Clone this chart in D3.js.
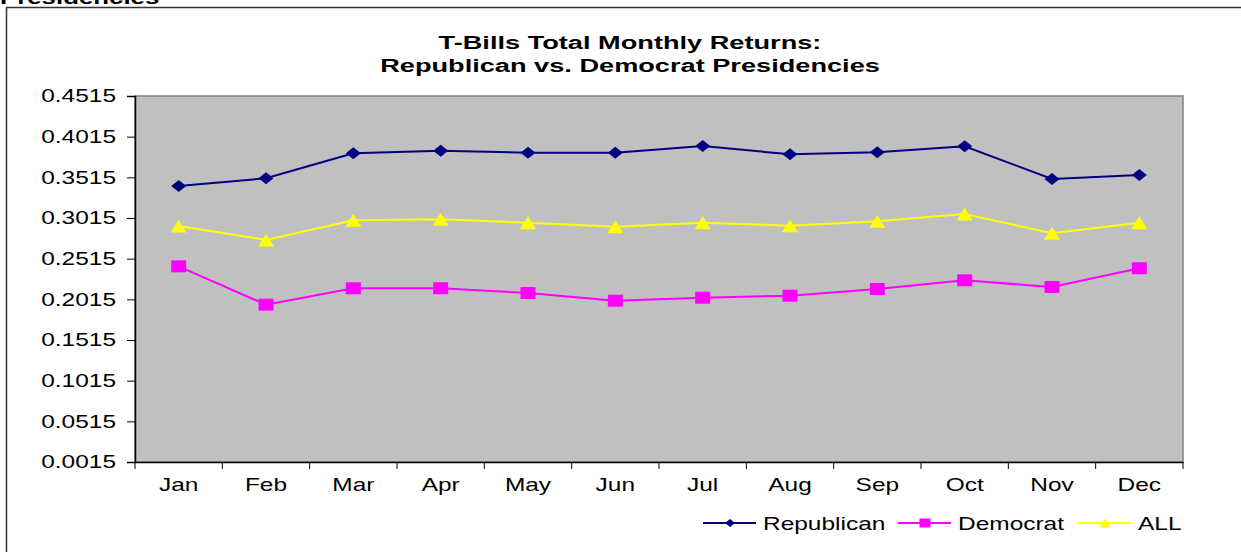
<!DOCTYPE html>
<html>
<head>
<meta charset="utf-8">
<script src="https://cdn.jsdelivr.net/npm/d3@7"></script>
<style>
  body { margin: 0; background: #fff; }
  svg { display: block; }
  text { font-family: Arial, "Liberation Sans", sans-serif; }
</style>
</head>
<body>
<svg id="chart"></svg>
<script>
// values
var months = ["Jan", "Feb", "Mar", "Apr", "May", "Jun", "Jul", "Aug", "Sep", "Oct", "Nov", "Dec"];
var republican = [0.3408, 0.3503, 0.3810, 0.3842, 0.3818, 0.3818, 0.3900, 0.3798, 0.3823, 0.3897, 0.3494, 0.3544];
var democrat = [0.2421, 0.1949, 0.2151, 0.2151, 0.2093, 0.1998, 0.2035, 0.2060, 0.2142, 0.2249, 0.2167, 0.2397];
var allReturns = [0.2917, 0.2745, 0.2987, 0.2999, 0.2957, 0.2908, 0.2957, 0.2920, 0.2974, 0.3064, 0.2827, 0.2957];
var yTicks = [0.0015, 0.0515, 0.1015, 0.1515, 0.2015, 0.2515, 0.3015, 0.3515, 0.4015, 0.4515];
var seriesNames = ["Republican", "Democrat", "ALL"];

var width = 1241, height = 552;
var plot = {left: 135, right: 1183, top: 96, bottom: 462};
var stretch = 1.36; // the source picture is widened, text included

var svg = d3.select("#chart")
    .attr("width", width)
    .attr("height", height);

// place a horizontally stretched text
function stretchedText(parent, px, py, str, k) {
    return parent.append("text")
        .attr("transform", "translate(" + px + "," + py + ") scale(" + (k || stretch) + ",1)")
        .text(str);
}

// cut-off caption from the page above
stretchedText(svg, 0, 4, "Presidencies")
    .attr("font-family", "'Liberation Serif', 'Times New Roman', serif")
    .attr("font-weight", "bold")
    .attr("font-size", 19);

// chart frame
svg.append("rect")
    .attr("x", 6.5)
    .attr("y", 7.5)
    .attr("width", width + 10)
    .attr("height", height + 10)
    .attr("fill", "#fff")
    .attr("stroke", "#333")
    .attr("stroke-width", 1.5);

// title
[["T-Bills Total Monthly Returns:", 49], ["Republican vs. Democrat Presidencies", 72]].forEach(function(t) {
    stretchedText(svg, 630, t[1], t[0], 1.43)
        .attr("text-anchor", "middle")
        .attr("font-weight", "bold")
        .attr("font-size", 19);
});

var x = d3.scaleBand()
    .domain(months)
    .range([plot.left, plot.right]);

var y = d3.scaleLinear()
    .domain([yTicks[0], yTicks[yTicks.length - 1]])
    .range([plot.bottom, plot.top]);

// plot area
svg.append("rect")
    .attr("x", plot.left)
    .attr("y", plot.top)
    .attr("width", plot.right - plot.left)
    .attr("height", plot.bottom - plot.top)
    .attr("fill", "#c0c0c0")
    .attr("stroke", "#808080")
    .attr("stroke-width", 1.5);

// y axis
var yAxis = svg.append("g")
    .attr("transform", "translate(" + plot.left + ",0)")
    .call(d3.axisLeft(y).tickValues(yTicks).tickFormat(d3.format(".4f")).tickSize(8));
yAxis.select(".domain").attr("stroke", "#000").attr("stroke-width", 1.5);
yAxis.selectAll(".tick line").attr("stroke", "#000");
yAxis.selectAll(".tick text")
    .attr("x", -19 / stretch)
    .attr("transform", "scale(" + stretch + ",1)")
    .attr("font-size", 18).attr("fill", "#000")
    .attr("font-family", "Arial, 'Liberation Sans', sans-serif");

// x axis: labels centred in bands, tick marks on band edges
var xAxis = svg.append("g")
    .attr("transform", "translate(0," + plot.bottom + ")")
    .call(d3.axisBottom(x).tickSize(0).tickPadding(16));
xAxis.select(".domain").attr("stroke", "#000").attr("stroke-width", 1.5);
xAxis.selectAll(".tick text")
    .attr("transform", "scale(" + stretch + ",1)")
    .attr("font-size", 18).attr("fill", "#000")
    .attr("font-family", "Arial, 'Liberation Sans', sans-serif");
xAxis.selectAll(".edge")
    .data(months.concat(["end"]))
    .enter()
    .append("line")
    .attr("class", "edge")
    .attr("x1", function(d, i) { return plot.left + i * x.step(); })
    .attr("x2", function(d, i) { return plot.left + i * x.step(); })
    .attr("y1", 0)
    .attr("y2", 7)
    .attr("stroke", "#000");

// marker shapes, w x h in pixels
function shape(kind, w, h) {
    return function(sel) {
        var a = w / 2, b = h / 2, p;
        if (kind === "diamond") p = [[0, -b], [a, 0], [0, b], [-a, 0]];
        else if (kind === "square") p = [[-a, -b], [a, -b], [a, b], [-a, b]];
        else p = [[0, -b], [a, b], [-a, b]];
        sel.attr("d", "M" + p.join("L") + "Z");
    };
}

var series = [
    {name: seriesNames[0], values: republican, color: "#000080", kind: "diamond", w: 15, h: 12, lw: 10, lh: 8},
    {name: seriesNames[1], values: democrat, color: "#ff00ff", kind: "square", w: 15, h: 12, lw: 11, lh: 9},
    {name: seriesNames[2], values: allReturns, color: "#ffff00", kind: "triangle", w: 16, h: 13, lw: 12, lh: 9}
];

var line = d3.line()
    .x(function(d, i) { return x(months[i]) + x.bandwidth() / 2; })
    .y(function(d) { return y(d); });

series.forEach(function(s) {
    var g = svg.append("g");
    g.append("path")
        .datum(s.values)
        .attr("d", line)
        .attr("fill", "none")
        .attr("stroke", s.color)
        .attr("stroke-width", 2);
    g.selectAll("path.pt")
        .data(s.values)
        .enter()
        .append("path")
        .attr("class", "pt")
        .attr("transform", function(d, i) {
            return "translate(" + (x(months[i]) + x.bandwidth() / 2) + "," + y(d) + ")";
        })
        .attr("fill", s.color)
        .call(shape(s.kind, s.w, s.h));
});

// legend
var legendX = [703, 898, 1078];
var legend = svg.selectAll(".legend")
    .data(series)
    .enter()
    .append("g")
    .attr("class", "legend")
    .attr("transform", function(d, i) { return "translate(" + legendX[i] + ",523)"; });
legend.append("line")
    .attr("x1", 0).attr("x2", 53)
    .attr("stroke", function(d) { return d.color; })
    .attr("stroke-width", 2);
legend.append("path")
    .attr("transform", "translate(27,0)")
    .attr("fill", function(d) { return d.color; })
    .each(function(d) { d3.select(this).call(shape(d.kind, d.lw, d.lh)); });
legend.each(function(d) {
    stretchedText(d3.select(this), 60, 7, d.name).attr("font-size", 18);
});
</script>
</body>
</html>
